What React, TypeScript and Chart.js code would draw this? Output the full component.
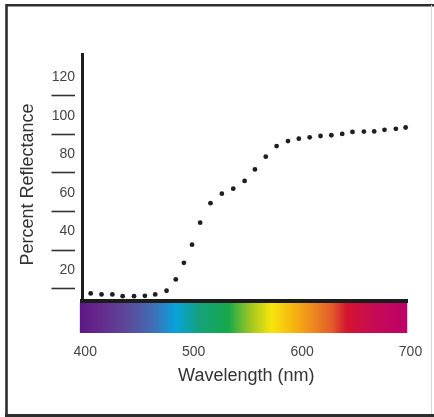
import { useEffect, useRef } from "react";
import { Chart, registerables } from "chart.js";

Chart.register(...registerables);

// Measured reflectance curve: wavelength (nm) and percent reflectance
const WAVELENGTHS = [
  405, 415, 425, 434.5, 445, 455, 464.5, 475, 483.5, 491, 498.5, 506, 515.5,
  526, 536.5, 547, 556.5, 566.5, 576.5, 587, 597, 607, 617, 627, 637, 646.5,
  657, 666.5, 676, 686.5, 695.5,
];
const REFLECTANCE = [
  7.9, 7.4, 7.4, 6.5, 6.5, 6.7, 7.4, 9.3, 15.2, 23.8, 33.2, 44.6, 54.7, 59.6,
  62.2, 66.2, 72.2, 78.8, 84.3, 86.9, 88.1, 88.8, 89.5, 89.9, 90.6, 91.6, 91.8,
  91.9, 92.7, 93.2, 93.9,
];
const X_TICKS = [400, 500, 600, 700];
const Y_TICKS = [20, 40, 60, 80, 100, 120];

const X_TITLE = "Wavelength (nm)";
const Y_TITLE = "Percent Reflectance";

// The wavelength axis line stops a little short of the 700 label
const X_AXIS_END = 697.7;

// Visible-light band drawn under the wavelength axis (nm -> colour)
const SPECTRUM_START = 395;
const SPECTRUM_END = 697;
const SPECTRUM_STOPS: [number, string][] = [
  [395, "#5f1787"],
  [414, "#662a8c"],
  [441, "#5a4c9c"],
  [464, "#3f70b8"],
  [483, "#08a2dc"],
  [506, "#14a27a"],
  [532, "#17a84a"],
  [554, "#a9c91f"],
  [572, "#f6e50d"],
  [591, "#f6b80f"],
  [609, "#ee8c1d"],
  [628, "#e25a2a"],
  [641, "#d3152e"],
  [667, "#c70a55"],
  [697, "#bc0068"],
];

const FONT = "'Liberation Sans', Arial, Helvetica, sans-serif";

const framePlugin = {
  id: "frame",
  beforeDraw(chart: any) {
    const { ctx, width, height } = chart;
    ctx.save();
    ctx.fillStyle = "#ffffff";
    ctx.fillRect(0, 0, width, height);
    ctx.restore();
  },
  afterDraw(chart: any) {
    const { ctx, width, height } = chart;
    ctx.save();
    ctx.strokeStyle = "#2e2e2e";
    ctx.lineWidth = 2.6;
    ctx.beginPath();
    ctx.moveTo(6.5, height);
    ctx.lineTo(6.5, 5.3);
    ctx.lineTo(width, 5.3);
    ctx.stroke();
    ctx.lineWidth = 3;
    ctx.beginPath();
    ctx.moveTo(5, height - 1.5);
    ctx.lineTo(width, height - 1.5);
    ctx.stroke();
    ctx.strokeStyle = "#d6d6d6";
    ctx.lineWidth = 1;
    ctx.beginPath();
    ctx.moveTo(431.5, 5);
    ctx.lineTo(431.5, height - 3);
    ctx.stroke();
    ctx.restore();
  },
};

const xAxisPlugin = {
  id: "wavelengthAxis",
  afterDraw(chart: any) {
    const { ctx, chartArea } = chart;
    const xs = chart.scales.x;
    // colour band
    const x0 = xs.getPixelForValue(SPECTRUM_START);
    const x1 = xs.getPixelForValue(SPECTRUM_END);
    const grad = ctx.createLinearGradient(x0, 0, x1, 0);
    SPECTRUM_STOPS.forEach(([nm, color]) => {
      const t = (nm - SPECTRUM_START) / (SPECTRUM_END - SPECTRUM_START);
      grad.addColorStop(Math.min(1, Math.max(0, t)), color);
    });
    ctx.save();
    ctx.fillStyle = grad;
    ctx.fillRect(x0, chartArea.bottom + 2, x1 - x0, 30);
    // heavy axis line
    ctx.fillStyle = "#1c1c1c";
    const xe = xs.getPixelForValue(X_AXIS_END);
    ctx.fillRect(chartArea.left - 2, chartArea.bottom - 2, xe - chartArea.left + 2, 4);
    ctx.restore();
  },
};

const yAxisDecorPlugin = {
  id: "yAxisDecor",
  afterDraw(chart: any) {
    const { ctx, chartArea } = chart;
    const ys = chart.scales.y;
    ctx.save();
    // short dashes sitting under each percentage label
    ctx.strokeStyle = "#333333";
    ctx.lineWidth = 1.6;
    Y_TICKS.forEach((v) => {
      const y = Math.round(ys.getPixelForValue(v) + 18) + 0.5;
      ctx.beginPath();
      ctx.moveTo(51.5, y);
      ctx.lineTo(75, y);
      ctx.stroke();
    });
    // rotated axis title
    ctx.translate(28.5, (chartArea.top + chartArea.bottom) / 2 + 7);
    ctx.rotate(-Math.PI / 2);
    ctx.fillStyle = "#333333";
    ctx.font = `18px ${FONT}`;
    ctx.textAlign = "center";
    ctx.textBaseline = "middle";
    ctx.fillText(Y_TITLE, 0, 0);
    ctx.restore();
  },
};

export default function App() {
  const canvasRef = useRef<HTMLCanvasElement | null>(null);

  useEffect(() => {
    if (!canvasRef.current) return;
    const chart = new Chart(canvasRef.current, {
      type: "scatter",
      data: {
        datasets: [
          {
            data: WAVELENGTHS.map((x, i) => ({ x, y: REFLECTANCE[i] })),
            pointRadius: 2.4,
            pointBackgroundColor: "#1f1f1f",
            pointBorderWidth: 0,
            showLine: false,
          },
        ],
      },
      options: {
        responsive: false,
        animation: false,
        devicePixelRatio: 1,
        layout: { padding: { top: 54, right: 23.5, left: 0, bottom: 0 } },
        plugins: {
          legend: { display: false },
          tooltip: { enabled: false },
        },
        scales: {
          x: {
            type: "linear",
            min: 397,
            max: 700,
            // invisible tick marks leave room for the colour band under the axis
            grid: {
              display: true,
              drawOnChartArea: false,
              drawTicks: true,
              tickLength: 43,
              tickColor: "rgba(0,0,0,0)",
            },
            border: { display: false },
            ticks: {
              autoSkip: false,
              padding: 0,
              color: "#444444",
              font: { family: FONT, size: 14 },
            },
            afterBuildTicks: (s: any) => {
              s.ticks = X_TICKS.map((value) => ({ value }));
            },
            afterFit: (s: any) => {
              s.height = 116;
            },
            title: {
              display: true,
              text: X_TITLE,
              color: "#333333",
              font: { family: FONT, size: 18 },
              padding: { top: 0, bottom: 30 },
            },
          },
          y: {
            type: "linear",
            min: 4,
            max: 132,
            grid: { display: false, drawTicks: false },
            border: { display: true, color: "#1c1c1c", width: 3 },
            ticks: {
              padding: 7,
              color: "#444444",
              font: { family: FONT, size: 14 },
            },
            afterBuildTicks: (s: any) => {
              s.ticks = Y_TICKS.map((value) => ({ value }));
            },
            afterFit: (s: any) => {
              s.width = 82;
            },
          },
        },
      },
      plugins: [framePlugin, xAxisPlugin, yAxisDecorPlugin],
    });
    return () => chart.destroy();
  }, []);

  return (
    <div style={{ position: "absolute", left: 0, top: 0, width: 434, height: 417 }}>
      <canvas ref={canvasRef} width={434} height={417} style={{ display: "block" }} />
    </div>
  );
}
